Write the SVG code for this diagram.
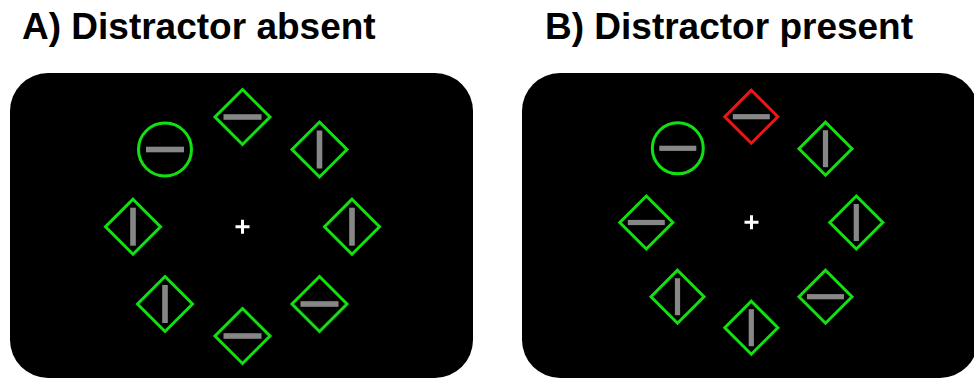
<svg xmlns="http://www.w3.org/2000/svg" width="974" height="379" viewBox="0 0 974 379">
<style>
.title{font-family:"Liberation Sans",Arial,sans-serif;font-weight:bold;font-size:37px;fill:#000}
.screen{fill:#000}
.g{fill:none;stroke:#11e011;stroke-width:3}
.r{fill:none;stroke:#ee1515;stroke-width:3}
.bar{fill:#878787}
.fix{stroke:#fff;stroke-width:3;fill:none}
</style>
<defs>
<path id="dA" d="M0,-27.5 L27.5,0 L0,27.5 L-27.5,0 Z"/>
<rect id="hA" x="-19" y="-2.8" width="38" height="5.6"/>
<rect id="vA" x="-2.8" y="-19" width="5.6" height="38"/>
<path id="dB" d="M0,-26.5 L26.5,0 L0,26.5 L-26.5,0 Z"/>
<rect id="hB" x="-18.5" y="-2.6" width="37" height="5.2"/>
<rect id="vB" x="-2.6" y="-18.5" width="5.2" height="37"/>
</defs>
<rect width="974" height="379" fill="#fff"/>
<text class="title" x="22" y="39">A) Distractor absent</text>
<text class="title" x="545" y="39">B) Distractor present</text>

<g id="panelA">
<rect class="screen" x="10" y="73" width="463" height="305" rx="38"/>
<g id="A-fix" transform="translate(242.5,226.7)"><path class="fix" d="M-7,0H7M0,-7V7"/></g>
<g id="A-top" transform="translate(242.5,117)"><use href="#dA" class="g"/><use href="#hA" class="bar"/></g>
<g id="A-upright" transform="translate(319.5,149.5)"><use href="#dA" class="g"/><use href="#vA" class="bar"/></g>
<g id="A-right" transform="translate(352,226.7)"><use href="#dA" class="g"/><use href="#vA" class="bar"/></g>
<g id="A-lowright" transform="translate(319.5,304)"><use href="#dA" class="g"/><use href="#hA" class="bar"/></g>
<g id="A-bottom" transform="translate(242.5,336)"><use href="#dA" class="g"/><use href="#hA" class="bar"/></g>
<g id="A-lowleft" transform="translate(165,304)"><use href="#dA" class="g"/><use href="#vA" class="bar"/></g>
<g id="A-left" transform="translate(133,226.7)"><use href="#dA" class="g"/><use href="#vA" class="bar"/></g>
<g id="A-circle" transform="translate(165,149.5)"><circle r="26.5" class="g"/><use href="#hA" class="bar"/></g>
</g>

<g id="panelB">
<rect class="screen" x="522" y="73" width="456" height="305" rx="38"/>
<g id="B-fix" transform="translate(751.5,222.3)"><path class="fix" d="M-7,0H7M0,-7V7"/></g>
<g id="B-top" transform="translate(751.3,116.7)"><use href="#dB" class="r"/><use href="#hB" class="bar"/></g>
<g id="B-upright" transform="translate(825.5,148.7)"><use href="#dB" class="g"/><use href="#vB" class="bar"/></g>
<g id="B-right" transform="translate(856.3,222.5)"><use href="#dB" class="g"/><use href="#vB" class="bar"/></g>
<g id="B-lowright" transform="translate(825.5,296.7)"><use href="#dB" class="g"/><use href="#hB" class="bar"/></g>
<g id="B-bottom" transform="translate(751.3,327.7)"><use href="#dB" class="g"/><use href="#vB" class="bar"/></g>
<g id="B-lowleft" transform="translate(677.5,296.7)"><use href="#dB" class="g"/><use href="#vB" class="bar"/></g>
<g id="B-left" transform="translate(646.3,222.5)"><use href="#dB" class="g"/><use href="#hB" class="bar"/></g>
<g id="B-circle" transform="translate(677.8,148.3)"><circle r="25.5" class="g"/><use href="#hB" class="bar"/></g>
</g>
</svg>
